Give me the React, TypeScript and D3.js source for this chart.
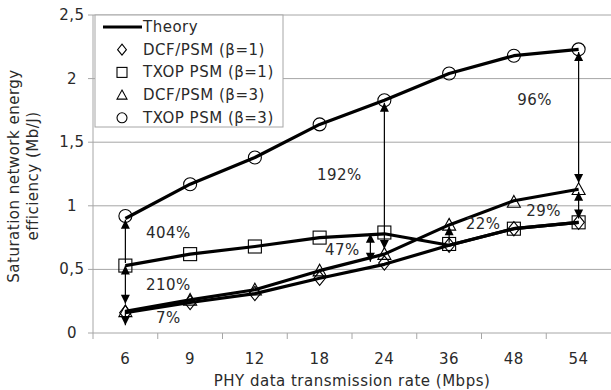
import * as d3 from "d3";

const rates = ["6", "9", "12", "18", "24", "36", "48", "54"];
const yTicks = [0, 0.5, 1, 1.5, 2, 2.5];

// theory curves (thick lines)
const theoryDcf1 = [0.16, 0.24, 0.31, 0.43, 0.54, 0.69, 0.82, 0.87];
const theoryTxop1 = [0.53, 0.62, 0.68, 0.75, 0.78, 0.69, 0.82, 0.87];
const theoryDcf3 = [0.17, 0.26, 0.34, 0.49, 0.62, 0.85, 1.04, 1.13];
const theoryTxop3 = [0.9, 1.17, 1.38, 1.64, 1.83, 2.04, 2.18, 2.23];

// simulation markers
const simDcf1 = [0.16, 0.24, 0.31, 0.43, 0.55, 0.69, 0.82, 0.87];
const simTxop1 = [0.53, 0.62, 0.68, 0.75, 0.79, 0.7, 0.82, 0.87];
const simDcf3 = [0.17, 0.26, 0.34, 0.49, 0.62, 0.85, 1.03, 1.13];
const simTxop3 = [0.92, 1.17, 1.38, 1.64, 1.83, 2.04, 2.18, 2.23];

// gain arrows: rate, from, to, heads
const arrows = [
  { rate: "6", from: 0.55, to: 0.89, start: false, end: true, shift: 0 },
  { rate: "6", from: 0.53, to: 0.23, start: true, end: true, shift: 0 },
  { rate: "6", from: 0.18, to: 0.06, start: false, end: true, shift: 0 },
  { rate: "24", from: 0.66, to: 1.81, start: true, end: true, shift: 0 },
  { rate: "24", from: 0.56, to: 0.78, start: true, end: true, shift: -14 },
  { rate: "36", from: 0.71, to: 0.84, start: false, end: true, shift: 0 },
  { rate: "54", from: 1.18, to: 2.21, start: true, end: true, shift: 0 },
  { rate: "54", from: 0.9, to: 1.11, start: true, end: true, shift: 0 },
];

const gains = [
  { text: "404%", rate: "6", v: 0.79, shift: 43 },
  { text: "210%", rate: "6", v: 0.38, shift: 43 },
  { text: "7%", rate: "6", v: 0.12, shift: 43 },
  { text: "192%", rate: "24", v: 1.24, shift: -45 },
  { text: "47%", rate: "24", v: 0.65, shift: -42 },
  { text: "22%", rate: "36", v: 0.86, shift: 34 },
  { text: "96%", rate: "54", v: 1.83, shift: -44 },
  { text: "29%", rate: "54", v: 0.96, shift: -35 },
];

const legendItems = [
  "Theory",
  "DCF/PSM (β=1)",
  "TXOP PSM (β=1)",
  "DCF/PSM (β=3)",
  "TXOP PSM (β=3)",
];

const W = 611;
const H = 390;
const left = 93;
const right = 611;
const top = 15;
const bottom = 333;
const font = "'DejaVu Sans', sans-serif";
const grid = "#a6a6a6";
const ink = "#2a2a2a";
const txt = { fontFamily: font, fontSize: 15, letterSpacing: 0.5, fill: ink };

type Shape = "diamond" | "square" | "triangle" | "circle";

function Marker({ shape, x, y, s }: { shape: Shape; x: number; y: number; s: number }) {
  const common = { fill: "none", stroke: "#000", strokeWidth: 1.1 };
  if (shape === "circle") return <circle cx={x} cy={y} r={s / 2} {...common} />;
  if (shape === "square")
    return <rect x={x - s / 2} y={y - s / 2} width={s} height={s} {...common} />;
  if (shape === "diamond") {
    const h = s * 0.55;
    return <path d={`M${x},${y - h}L${x + h * 0.8},${y}L${x},${y + h}L${x - h * 0.8},${y}Z`} {...common} />;
  }
  const h = s * 0.5;
  return <path d={`M${x},${y - h}L${x + h},${y + h * 0.8}L${x - h},${y + h * 0.8}Z`} {...common} />;
}

export default function App() {
  const x = d3.scaleBand().domain(rates).range([left, right]);
  const cx = (r: string) => (x(r) || 0) + x.bandwidth() / 2;
  const y = d3.scaleLinear().domain([0, 2.5]).range([bottom, top]);

  const line = d3
    .line<number>()
    .x((_, i) => cx(rates[i]))
    .y((d) => y(d));

  const theories = [theoryTxop3, theoryTxop1, theoryDcf3, theoryDcf1];
  const sims: { data: number[]; shape: Shape }[] = [
    { data: simDcf1, shape: "diamond" },
    { data: simTxop1, shape: "square" },
    { data: simDcf3, shape: "triangle" },
    { data: simTxop3, shape: "circle" },
  ];
  const legendShapes: Shape[] = ["diamond", "square", "triangle", "circle"];

  const head = (px: number, py: number, dir: number) => {
    // dir -1 = pointing up, 1 = pointing down
    const l = 9;
    const w = 4.5;
    return `M${px},${py}L${px - w},${py - dir * l}L${px + w},${py - dir * l}Z`;
  };

  return (
    <svg width={W} height={H} style={{ position: "absolute", left: 0, top: 0, background: "#fff" }}>
      {/* grid */}
      {yTicks.map((t) => (
        <g key={t}>
          <line x1={left - 5} x2={right} y1={y(t)} y2={y(t)} stroke={grid} strokeWidth={1} />
          <text x={72} y={y(t)} textAnchor="middle" dominantBaseline="central" {...txt}>
            {String(t).replace(".", ",")}
          </text>
        </g>
      ))}
      <line x1={left} x2={left} y1={top} y2={bottom} stroke={grid} />
      {rates.map((r) => (
        <line key={`t${r}`} x1={x(r)} x2={x(r)} y1={bottom} y2={bottom + 6} stroke={grid} />
      ))}
      {rates.map((r) => (
        <text key={`l${r}`} x={cx(r)} y={359} textAnchor="middle" dominantBaseline="central" {...txt}>
          {r}
        </text>
      ))}
      <text x={352} y={381} textAnchor="middle" dominantBaseline="central" {...txt}>
        PHY data transmission rate (Mbps)
      </text>
      <g transform={`translate(14, 176) rotate(-90)`}>
        <text textAnchor="middle" dominantBaseline="central" {...txt}>
          Saturation network energy
        </text>
        <text y={19} textAnchor="middle" dominantBaseline="central" {...txt}>
          efficiency (Mb/J)
        </text>
      </g>

      {/* theory lines */}
      {theories.map((d, i) => (
        <path key={i} d={line(d) || ""} fill="none" stroke="#000" strokeWidth={3.2} strokeLinejoin="round" />
      ))}

      {/* simulation markers */}
      {sims.map((s) =>
        s.data.map((v, i) => <Marker key={`${s.shape}${i}`} shape={s.shape} x={cx(rates[i])} y={y(v)} s={13} />)
      )}

      {/* arrows */}
      {arrows.map((a, i) => {
        const ax = cx(a.rate) + a.shift;
        const y1 = y(a.from);
        const y2 = y(a.to);
        const dir = y2 > y1 ? 1 : -1;
        return (
          <g key={i}>
            <line x1={ax} x2={ax} y1={y1} y2={y2} stroke="#000" strokeWidth={1.2} />
            {a.end && <path d={head(ax, y2, dir)} fill="#000" />}
            {a.start && <path d={head(ax, y1, -dir)} fill="#000" />}
          </g>
        );
      })}

      {gains.map((g) => (
        <text key={g.text} x={cx(g.rate) + g.shift} y={y(g.v)} textAnchor="middle" dominantBaseline="central" {...txt}>
          {g.text}
        </text>
      ))}

      {/* legend */}
      <rect x={95} y={15} width={188} height={112} fill="#fff" stroke={grid} />
      {legendItems.map((t, i) => {
        const ly = 27 + i * 22.7;
        return (
          <g key={t}>
            {i === 0 ? (
              <line x1={103} x2={142} y1={ly} y2={ly} stroke="#000" strokeWidth={3.2} />
            ) : (
              <Marker shape={legendShapes[i - 1]} x={122} y={ly} s={10} />
            )}
            <text x={143} y={ly} dominantBaseline="central" {...txt}>
              {t}
            </text>
          </g>
        );
      })}
    </svg>
  );
}
